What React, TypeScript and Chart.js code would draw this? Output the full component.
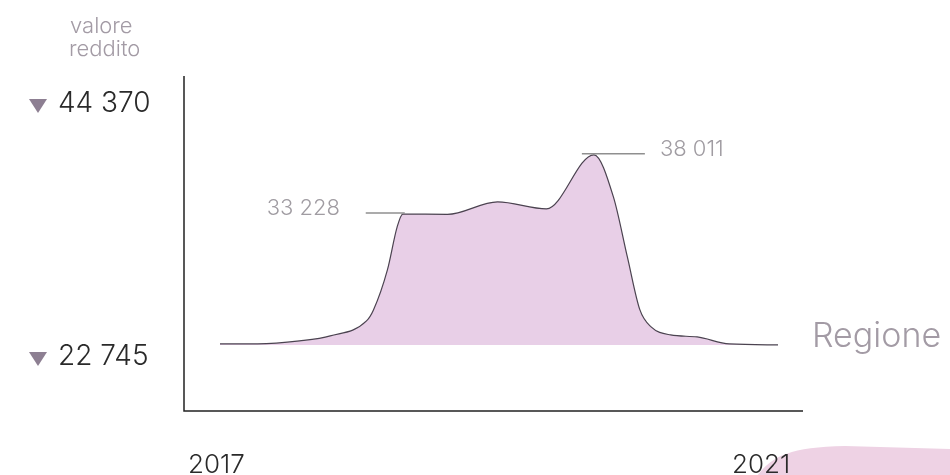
import React, { useEffect, useRef } from "react";
import { Chart, registerables } from "chart.js";

Chart.register(...registerables);

// Data
const years = [2017.0, 2017.27, 2017.57, 2017.79, 2018.05, 2018.1, 2018.2, 2018.27, 2018.31, 2018.63, 2018.99, 2019.34, 2019.68, 2019.82, 2019.92, 2020.01, 2020.09, 2020.23, 2020.42, 2020.65, 2021.0];
const values = [22745, 22745, 22987, 23391, 24603, 25491, 28722, 32195, 33228, 33205, 34214, 33649, 38011, 34618, 29772, 25491, 24118, 23472, 23310, 22745, 22664];
const yTickLabels = ["44 370", "22 745"];
const xTickLabels = ["2017", "2021"];
const annotationValues = [33228, 38011];
const annotationLabels = ["33 228", "38 011"];
const axisTitle = ["valore", "reddito"];
const seriesName = "Regione";

const FONT = "Inter, 'Noto Sans', sans-serif";

const decorPlugin = {
  id: "decor",
  beforeDraw(chart: any) {
    const ctx = chart.ctx;
    ctx.save();
    ctx.fillStyle = "#eed2e4";
    ctx.beginPath();
    ctx.moveTo(757, 476);
    ctx.bezierCurveTo(772, 456, 790, 447, 845, 446);
    ctx.lineTo(950, 449);
    ctx.lineTo(950, 476);
    ctx.closePath();
    ctx.fill();
    ctx.restore();
  },
  afterDraw(chart: any) {
    const ctx = chart.ctx;
    const area = chart.chartArea;
    const xs = chart.scales.x;
    const ys = chart.scales.y;
    ctx.save();
    // axes
    ctx.strokeStyle = "#222222";
    ctx.lineWidth = 1.5;
    ctx.beginPath();
    ctx.moveTo(area.left, area.top);
    ctx.lineTo(area.left, area.bottom);
    ctx.lineTo(area.right, area.bottom);
    ctx.stroke();

    ctx.textBaseline = "alphabetic";
    ctx.textAlign = "left";
    // axis title
    ctx.fillStyle = "#a39ba5";
    ctx.font = `300 22px ${FONT}`;
    ctx.fillText(axisTitle[0], 70, 33);
    ctx.fillText(axisTitle[1], 69, 56);

    // y tick labels with triangles
    const tickBase = [112, 365];
    yTickLabels.forEach((t, i) => {
      const b = tickBase[i];
      ctx.fillStyle = "#8d7f92";
      ctx.beginPath();
      ctx.moveTo(29, b - 13);
      ctx.lineTo(47, b - 13);
      ctx.lineTo(38, b + 1);
      ctx.closePath();
      ctx.fill();
      ctx.fillStyle = "#2a2a2a";
      ctx.font = `300 28px ${FONT}`;
      ctx.fillText(t, 58, b);
    });

    // x tick labels
    ctx.fillStyle = "#2a2a2a";
    ctx.font = `300 26px ${FONT}`;
    ctx.fillText(xTickLabels[0], 188, 473);
    ctx.fillText(xTickLabels[1], 732, 473);

    // series name
    ctx.fillStyle = "#a39ba5";
    ctx.font = `300 34px ${FONT}`;
    ctx.fillText(seriesName, 812, 347);

    // annotations
    ctx.strokeStyle = "#8f8f8f";
    ctx.lineWidth = 1.5;
    ctx.font = `300 22px ${FONT}`;
    ctx.fillStyle = "#a09ca2";
    annotationValues.forEach((v, i) => {
      const idx = values.indexOf(v);
      const px = xs.getPixelForValue(years[idx]);
      const py = ys.getPixelForValue(v) - 1;
      ctx.beginPath();
      if (i === 0) {
        ctx.moveTo(px - 37, py);
        ctx.lineTo(px + 2, py);
        ctx.stroke();
        ctx.fillText(annotationLabels[i], px - 136, py + 2);
      } else {
        ctx.moveTo(px - 12, py);
        ctx.lineTo(px + 51, py);
        ctx.stroke();
        ctx.fillText(annotationLabels[i], px + 66, py + 2);
      }
    });
    ctx.restore();
  },
};

export default function App() {
  const ref = useRef<HTMLCanvasElement>(null);
  useEffect(() => {
    if (!ref.current) return;
    const chart = new Chart(ref.current, {
      type: "line",
      data: {
        datasets: [
          {
            label: seriesName,
            data: years.map((x, i) => ({ x, y: values[i] })),
            borderColor: "#4b4350",
            borderWidth: 1.2,
            backgroundColor: "#e8cfe7",
            fill: { value: values[values.length - 1] },
            pointRadius: 0,
            cubicInterpolationMode: "monotone",
          },
        ],
      },
      options: {
        responsive: false,
        animation: false,
        layout: { padding: { left: 184, right: 147, top: 76, bottom: 64 } },
        plugins: { legend: { display: false }, tooltip: { enabled: false } },
        scales: {
          x: { type: "linear", display: false, min: 2016.742, max: 2021.179 },
          y: { type: "linear", display: false, min: 17333, max: 44370 },
        },
      },
      plugins: [decorPlugin],
    } as any);
    return () => chart.destroy();
  }, []);
  return (
    <div style={{ position: "fixed", left: 0, top: 0, width: 950, height: 475, background: "#fff" }}>
      <canvas ref={ref} width={950} height={475} />
    </div>
  );
}
